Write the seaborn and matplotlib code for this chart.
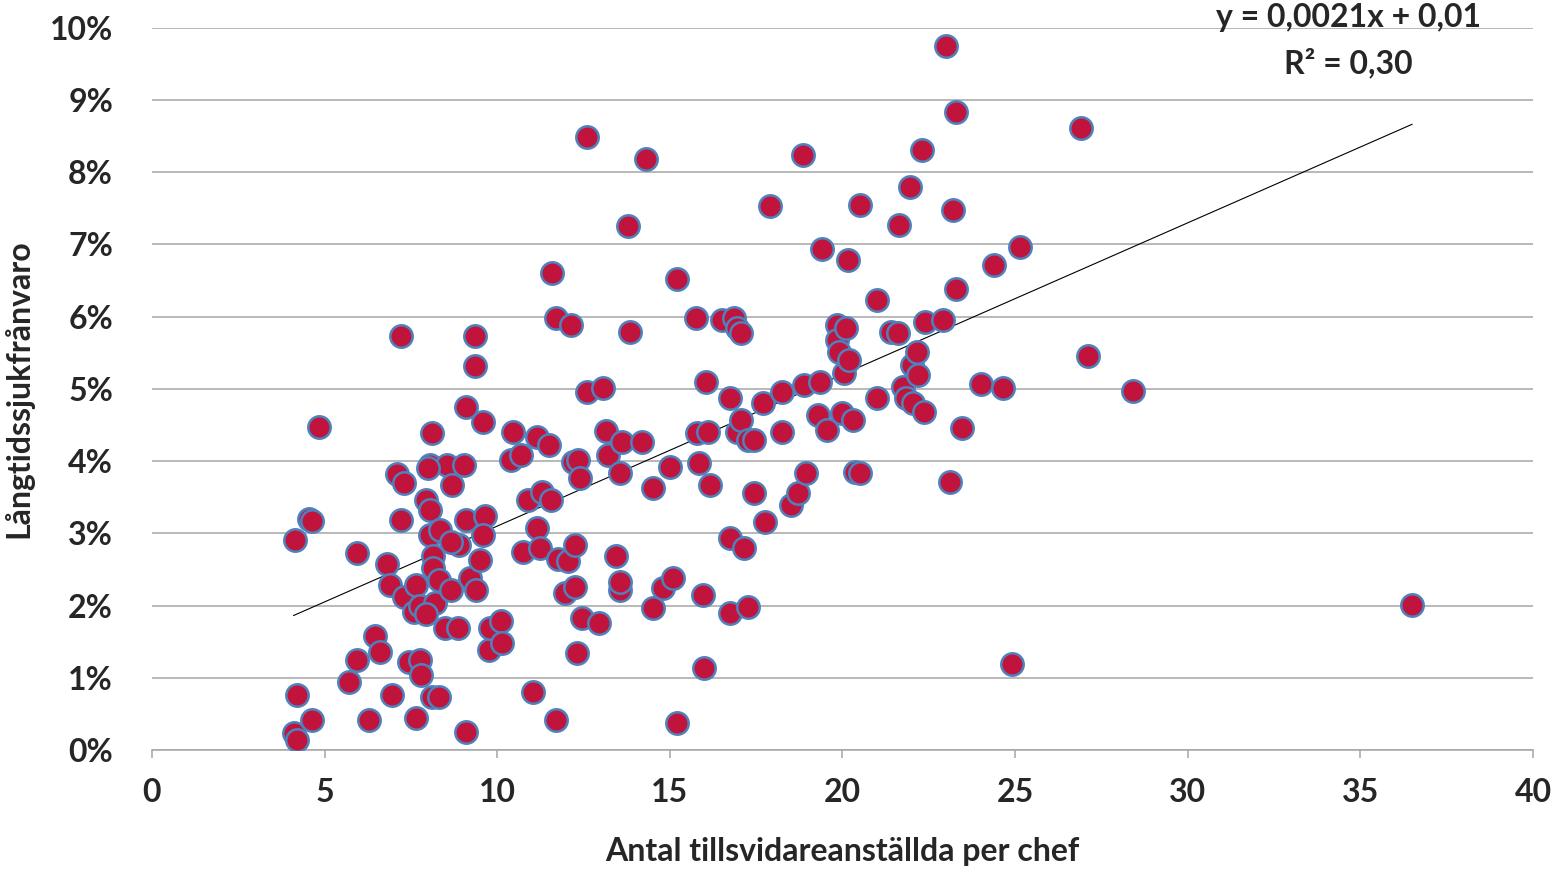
import numpy as np
import pandas as pd
import matplotlib
matplotlib.use("Agg")
import matplotlib.pyplot as plt
import seaborn as sns
from matplotlib.ticker import PercentFormatter, MultipleLocator

# Antal tillsvidareanställda per chef (x) och långtidssjukfrånvaro i procent (y)
antal = [
    4.15, 4.2, 4.1, 4.2, 4.55, 4.65, 4.65, 4.85, 5.7, 5.95, 5.95, 6.3,
    6.45, 6.6, 6.8, 6.9, 6.95, 7.2, 7.1, 7.3, 7.2, 7.3, 7.45, 7.6,
    7.65, 7.65, 7.75, 7.8, 7.75, 7.95, 8.05, 8.1, 8.05, 8.05, 8.15, 8.15,
    8.2, 8.1, 8.35, 8.3, 8.5, 8.55, 8.65, 8.7, 8.85, 8.9, 9.05, 9.1,
    9.1, 9.2, 9.1, 9.35, 9.35, 9.4, 9.5, 9.6, 9.65, 9.6, 9.75, 9.8,
    10.1, 10.15, 8.0, 8.3, 7.95, 8.65,
    10.4, 10.45, 10.7, 10.75, 10.9, 11.05, 11.15, 11.15, 11.25, 11.3, 11.5, 11.55,
    11.6, 11.7, 11.7, 11.75, 11.95, 12.05, 12.15, 12.2, 12.25, 12.25, 12.3, 12.35,
    12.4, 12.45, 12.6, 12.6, 12.95, 13.05, 13.15, 13.2, 13.45, 13.55, 13.55, 13.55,
    13.6, 13.8, 13.85, 14.2, 14.3, 14.5, 14.5, 14.8, 15.0, 15.1, 15.2, 15.2,
    15.75, 15.8, 15.85, 15.95, 16.0, 16.05, 16.1, 16.15, 16.5, 16.75, 16.75, 16.75,
    16.85, 16.95, 16.95, 17.05, 17.05, 17.15, 17.25, 17.25, 17.45, 17.45, 17.7, 17.75,
    17.9, 18.25, 18.25, 18.5, 18.7, 18.85, 18.9, 18.95, 19.3, 19.35, 19.4, 19.55,
    19.85, 19.85, 19.9, 20.0, 20.05, 20.1, 20.15, 20.2, 20.3, 20.35, 20.5, 20.5,
    21.0, 21.0, 21.4, 21.6, 21.65, 21.75, 21.85, 21.95, 22.0, 22.05, 22.15, 22.2,
    22.3, 22.35, 22.4, 22.9, 23.0, 23.1, 23.2, 23.3, 23.3, 23.45, 24.0, 24.4,
    24.65, 24.9, 25.15, 26.9, 27.1, 28.4, 36.5,
]
franvaro = [
    2.91, 0.76, 0.24, 0.14, 3.2, 3.17, 0.42, 4.47, 0.94, 2.73, 1.25, 0.42,
    1.58, 1.36, 2.58, 2.29, 0.76, 5.73, 3.82, 3.7, 3.19, 2.12, 1.22, 1.91,
    2.29, 0.44, 1.25, 1.04, 2.0, 3.46, 3.95, 4.39, 3.32, 2.98, 2.69, 2.52,
    2.04, 0.73, 3.05, 2.35, 1.69, 3.95, 2.22, 3.67, 1.69, 2.84, 3.95, 4.75,
    3.19, 2.38, 0.25, 5.73, 5.32, 2.22, 2.63, 4.54, 3.24, 2.98, 1.39, 1.69,
    1.78, 1.48, 3.9, 0.73, 1.88, 2.88,
    4.02, 4.4, 4.09, 2.74, 3.46, 0.8, 4.33, 3.07, 2.8, 3.57, 4.22, 3.46,
    6.6, 5.98, 0.42, 2.65, 2.17, 2.62, 5.89, 3.99, 2.84, 2.26, 1.34, 4.02,
    3.77, 1.83, 8.49, 4.96, 1.76, 5.01, 4.42, 4.08, 2.69, 3.83, 2.22, 2.33,
    4.26, 7.26, 5.79, 4.26, 8.19, 3.63, 1.97, 2.24, 3.92, 2.38, 6.52, 0.37,
    5.98, 4.39, 3.98, 2.15, 1.14, 5.1, 4.4, 3.67, 5.96, 4.88, 2.94, 1.9,
    5.98, 4.4, 5.84, 5.78, 4.57, 2.8, 4.29, 1.98, 4.29, 3.56, 4.81, 3.16,
    7.53, 4.96, 4.4, 3.39, 3.56, 8.24, 5.06, 3.84, 4.64, 5.1, 6.94, 4.43,
    5.89, 5.68, 5.51, 4.67, 5.22, 5.84, 6.79, 5.4, 4.57, 3.85, 3.84, 7.55,
    6.23, 4.88, 5.79, 5.78, 7.27, 5.03, 4.88, 7.8, 5.33, 4.81, 5.51, 5.19,
    8.31, 4.68, 5.93, 5.96, 9.75, 3.71, 7.48, 8.84, 6.39, 4.46, 5.07, 6.72,
    5.01, 1.19, 6.97, 8.61, 5.46, 4.97, 2.01,
]

# Linjär trend (Excel)
slope = 0.0021
intercept = 0.01
r2 = 0.30

df = pd.DataFrame({"antal": antal, "franvaro": franvaro})

sns.set_theme(style="white")
plt.rcParams["font.family"] = ["Lato", "DejaVu Sans"]
plt.rcParams["font.weight"] = "bold"

fig = plt.figure(figsize=(15.6, 8.71), dpi=100)
ax = fig.add_axes([0.0974, 0.139, 0.8853, 0.829])

ax.yaxis.grid(True, color="#A6A6A6", linewidth=1.1)
ax.xaxis.grid(False)
ax.set_axisbelow(True)

# trendlinje
xs = np.array([min(antal), max(antal)])
ax.plot(xs, (slope * xs + intercept) * 100, color="black", linewidth=0.8, zorder=1)

sns.scatterplot(data=df, x="antal", y="franvaro", ax=ax, s=260,
                color="#C0143C", edgecolor="#4F81BD", linewidth=1.8, zorder=3)

ax.set_xlim(0, 40)
ax.set_ylim(0, 10)
ax.xaxis.set_major_locator(MultipleLocator(5))
ax.yaxis.set_major_locator(MultipleLocator(1))
ax.yaxis.set_major_formatter(PercentFormatter(xmax=100, decimals=0))

for side in ["top", "right", "left"]:
    ax.spines[side].set_visible(False)
ax.spines["bottom"].set_color("#A6A6A6")
ax.spines["bottom"].set_linewidth(1.1)

ax.tick_params(axis="x", bottom=True, direction="out", length=6, width=1.1,
               color="#A6A6A6", pad=14, labelsize=23)
ax.tick_params(axis="y", left=False, pad=22, labelsize=23)
for lab in ax.get_xticklabels() + ax.get_yticklabels():
    lab.set_fontweight("bold")

ax.set_xlabel("Antal tillsvidareanställda per chef", fontsize=23,
              fontweight="bold", labelpad=22)
ax.set_ylabel("Långtidssjukfrånvaro", fontsize=23, fontweight="bold", labelpad=12)

eq = f"y = {slope:.4f}x + {intercept:.2f}".replace(".", ",")
fig.text(1348 / 1560, 1 - 18 / 871, eq, ha="center", va="center",
         fontsize=23, fontweight="bold")
fig.text(1348 / 1560, 1 - 63 / 871, f"R² = {r2:.2f}".replace(".", ","),
         ha="center", va="center", fontsize=23, fontweight="bold")

fig.savefig("out.png", dpi=100, facecolor="white")
